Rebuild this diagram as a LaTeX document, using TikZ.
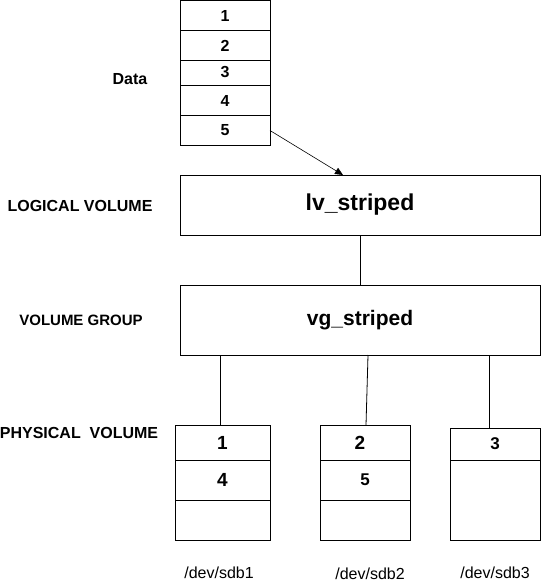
\documentclass[tikz,border=0pt]{standalone}
\usepackage{fontspec}
\setmainfont{Liberation Sans}
\usetikzlibrary{arrows.meta, positioning}

\tikzset{
    cell/.style={draw, minimum width=90pt, inner sep=0pt, outer sep=0pt,
        font=\fontsize{16}{16}\selectfont\bfseries},
    pvcell/.style={cell, font=\fontsize{19}{19}\selectfont\bfseries},
    big/.style={draw, minimum width=360pt, inner sep=0pt, outer sep=0pt},
    layer/.style={font=\fontsize{16}{16}\selectfont\bfseries},
    dev/.style={font=\fontsize{16}{16}\selectfont},
}

\begin{document}
\begin{tikzpicture}[x=1pt, y=-1pt, line width=0.8pt]
    \useasboundingbox (0,0) rectangle (541,585);

    % Data blocks
    \node[cell, minimum height=30pt, anchor=north west] (d1) at (180,0.5) {1};
    \node[cell, minimum height=30pt, below=0pt of d1] (d2) {2};
    \node[cell, minimum height=25pt, below=0pt of d2] (d3) {\raisebox{2pt}{3}};
    \node[cell, minimum height=30pt, below=0pt of d3] (d4) {4};
    \node[cell, minimum height=30pt, below=0pt of d4] (d5) {5};

    % Logical volume and volume group
    \node[big, minimum height=60pt, anchor=north west, font=\fontsize{23}{23}\selectfont\bfseries]
        (lv) at (180,175) {lv\_striped};
    \node[big, minimum height=70pt, anchor=north west, font=\fontsize{21}{21}\selectfont\bfseries]
        (vg) at (180,285) {vg\_striped};

    % Physical volumes
    \node[pvcell, minimum width=95pt, minimum height=35pt, anchor=north west] (p1a) at (175,425) {1};
    \node[pvcell, minimum width=95pt, minimum height=40pt, below=0pt of p1a] (p1b) {4};
    \node[pvcell, minimum width=95pt, minimum height=40pt, below=0pt of p1b] (p1c) {};

    \node[pvcell, minimum height=35pt, anchor=north west] (p2a) at (320,425) {\hspace*{-10pt}2};
    \node[cell, minimum height=40pt, font=\fontsize{17}{17}\selectfont\bfseries, below=0pt of p2a] (p2b) {5};
    \node[cell, minimum height=40pt, below=0pt of p2b] (p2c) {};

    \node[cell, minimum height=32pt, anchor=north west, font=\fontsize{17}{17}\selectfont\bfseries]
        (p3a) at (450,428) {3};
    \node[cell, minimum height=80pt, below=0pt of p3a] (p3b) {};

    % Layer names
    \node[layer] (datal) at (130,79) {Data};
    \node[layer] (lvl) at (80,206) {LOGICAL VOLUME};
    \node[layer, font=\fontsize{15}{15}\selectfont\bfseries] (vgl) at (81,320) {VOLUME GROUP};
    \node[layer] (pvl) at (79,433) {PHYSICAL\ \ VOLUME};

    % Device names
    \node[dev] (sdb1) at (219,573) {/dev/sdb1};
    \node[dev] (sdb2) at (370,574) {/dev/sdb2};
    \node[dev] (sdb3) at (495,573) {/dev/sdb3};

    % Connections
    \draw[line width=0.6pt, -{Triangle[length=8pt, width=7pt]}] (d5.east) -- ([xshift=-17pt]lv.north);
    \draw (lv) -- (vg);
    \draw ([xshift=-2.5pt]vg.south -| p1a.north) -- ([xshift=-2.5pt]p1a.north);
    \draw ([xshift=3pt]vg.south -| p2a.north) -- ([xshift=1pt]p2a.north);
    \draw ([xshift=-6pt]vg.south -| p3a.north) -- ([xshift=-6pt]p3a.north);
\end{tikzpicture}
\end{document}
